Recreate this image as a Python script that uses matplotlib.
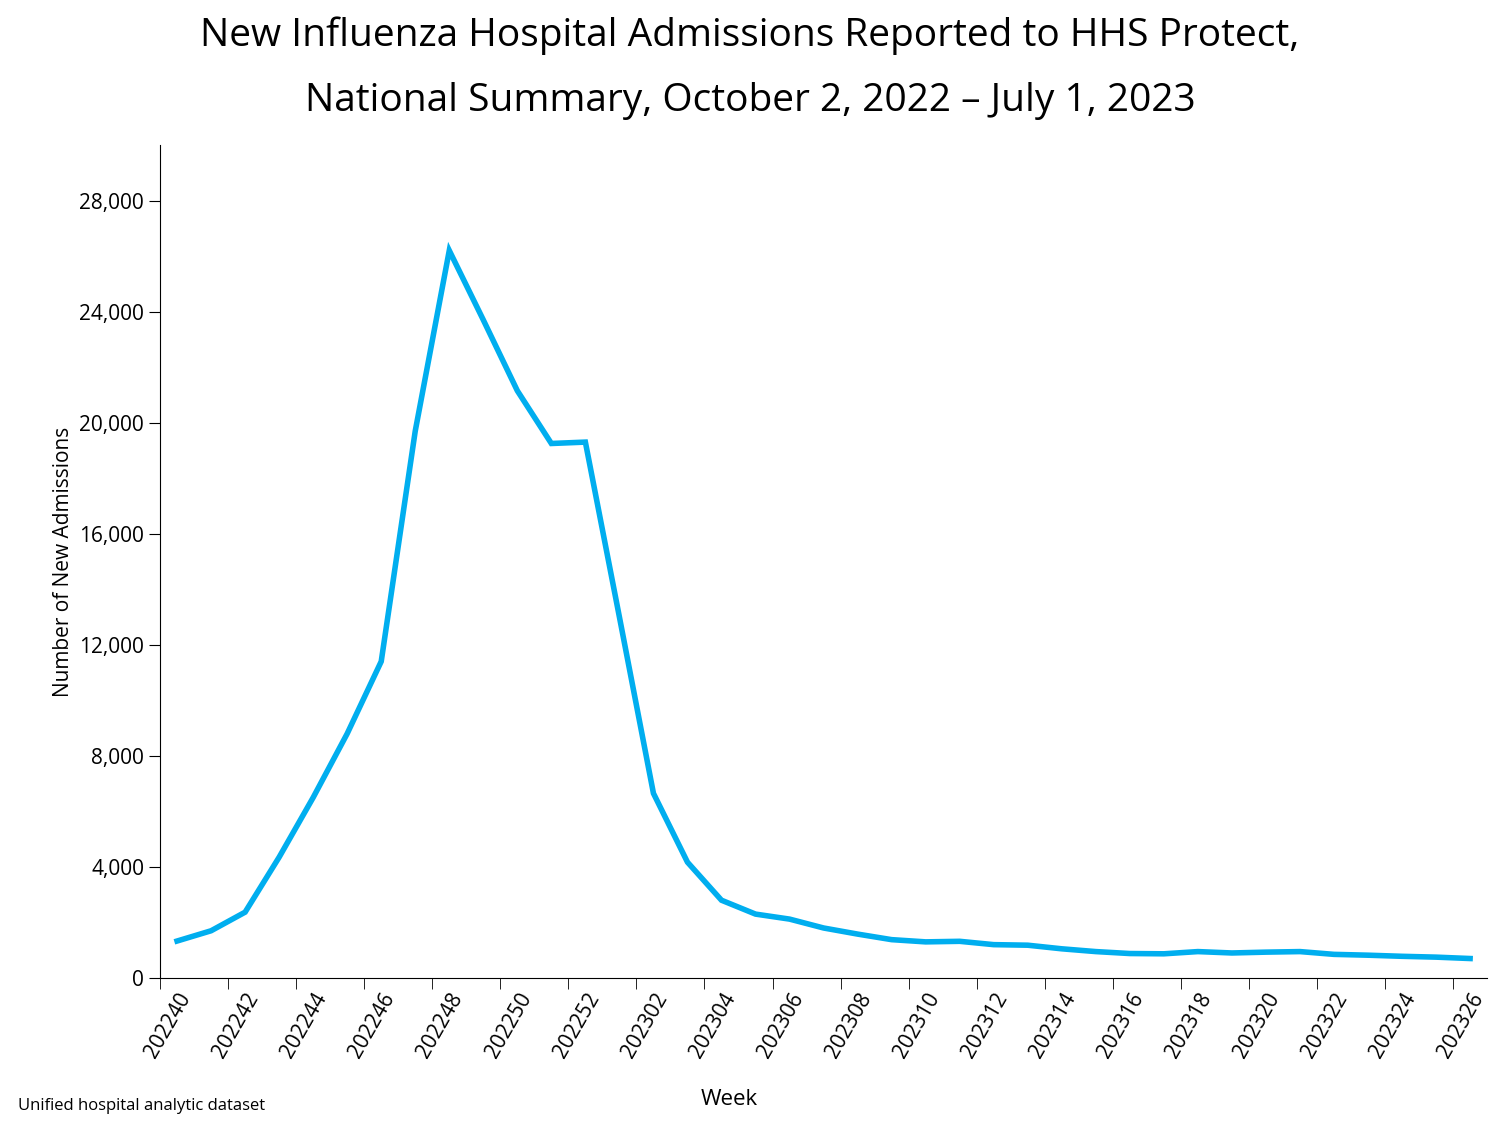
import matplotlib
matplotlib.use("Agg")
import matplotlib.pyplot as plt
import numpy as np

weeks = [f"2022{w}" for w in range(40, 53)] + [f"2023{w:02d}" for w in range(1, 27)]
admissions = [1330, 1700, 2370, 4350, 6500, 8800, 11400, 19700, 26200, 23700, 21150, 19250, 19300,
              13000, 6650, 4170, 2800, 2300, 2120, 1800, 1580, 1380, 1300, 1320, 1200, 1180,
              1050, 950, 880, 870, 950, 900, 930, 950, 850, 820, 780, 750, 700]
yticks = [0, 4000, 8000, 12000, 16000, 20000, 24000, 28000]

plt.rcParams["font.family"] = "Open Sans"
fig = plt.figure(figsize=(15, 11.25), dpi=100)
ax = fig.add_axes([0.1067, 0.1307, 0.8847, 0.7404])
x = np.arange(len(weeks))
ax.plot(x, admissions, color="#00AEEF", lw=4, solid_joinstyle="miter")
ax.set_xlim(-0.5, len(weeks) - 0.5)
ax.set_ylim(0, 30000)
ax.set_yticks(yticks)
ax.set_yticklabels([f"{v:,}" for v in yticks], fontsize=15)
ax.set_xticks(x[::2])
ax.set_xticklabels(weeks[::2], rotation=60, ha="right", rotation_mode="anchor", fontsize=15)
ax.tick_params(axis="x", length=0, pad=8)
ax.set_xticks(np.arange(-0.5, len(weeks), 2), minor=True)
ax.tick_params(axis="x", which="minor", length=8, direction="out")
ax.tick_params(axis="y", length=8, direction="out")
for s in ["top", "right"]:
    ax.spines[s].set_visible(False)
ax.set_ylabel("Number of New Admissions", fontsize=15)
fig.text(0.486, 0.018, "Week", fontsize=16, ha="center")
fig.text(0.012, 0.013, "Unified hospital analytic dataset", fontsize=12)
fig.text(0.5, 0.968, "New Influenza Hospital Admissions Reported to HHS Protect,", fontsize=28, ha="center", va="center")
fig.text(0.5, 0.91, "National Summary, October 2, 2022 \u2013 July 1, 2023", fontsize=28, ha="center", va="center")
fig.savefig("out.png", dpi=100)
